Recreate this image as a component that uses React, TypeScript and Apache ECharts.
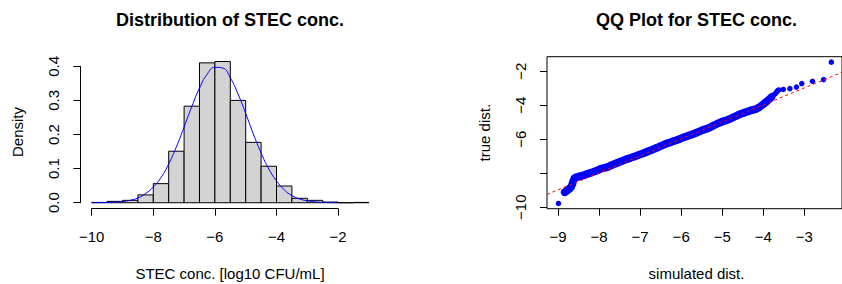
import React, { useEffect, useRef } from "react";
import * as echarts from "echarts";

// Histogram (density scale) of STEC conc.
const histBreaks = [-10, -9.5, -9, -8.5, -8, -7.5, -7, -6.5, -6, -5.5, -5, -4.5, -4, -3.5, -3, -2.5, -2, -1.5, -1];
const histDensity = [0.001, 0.004, 0.007, 0.023, 0.056, 0.151, 0.283, 0.41, 0.414, 0.3, 0.177, 0.107, 0.049, 0.013, 0.007, 0.002, 0, 0.001];

// Fitted density curve (blue)
const curveX = [-10, -9.75, -9.5, -9.25, -9, -8.75, -8.5, -8.25, -8, -7.75, -7.5, -7.25, -7, -6.75, -6.5, -6.25, -6, -5.75, -5.5, -5.25, -5, -4.75, -4.5, -4.25, -4, -3.75, -3.5, -3.25, -3, -2.75, -2.5, -2.25, -2];
const curveY = [0.0001, 0.0003, 0.0007, 0.0016, 0.0035, 0.0073, 0.014, 0.027, 0.046, 0.074, 0.114, 0.164, 0.222, 0.282, 0.336, 0.377, 0.397, 0.395, 0.366, 0.319, 0.262, 0.201, 0.146, 0.099, 0.064, 0.038, 0.021, 0.011, 0.0058, 0.0027, 0.0012, 0.0005, 0.0002];

const histXTicks = [-10, -8, -6, -4, -2];
const histYTicks = [0, 0.1, 0.2, 0.3, 0.4];

// QQ plot: simulated (x) vs true (y) quantiles
const qqSim = [
  -8.99, -8.84, -8.8, -8.76, -8.72, -8.68, -8.65, -8.63, -8.6, -8.56, -8.5, -8.44, -8.38, -8.32, -8.26, -8.2,
  -8.14, -8.08, -8.02, -7.96, -7.9, -7.84, -7.78, -7.72, -7.66, -7.6, -7.54, -7.48, -7.42, -7.36, -7.3, -7.24,
  -7.18, -7.12, -7.06, -7.0, -6.94, -6.88, -6.82, -6.76, -6.7, -6.64, -6.58, -6.52, -6.46, -6.4, -6.34, -6.28,
  -6.22, -6.16, -6.1, -6.04, -5.98, -5.92, -5.86, -5.8, -5.74, -5.68, -5.62, -5.56, -5.5, -5.44, -5.38, -5.32,
  -5.26, -5.2, -5.14, -5.08, -5.02, -4.96, -4.9, -4.84, -4.78, -4.72, -4.66, -4.6, -4.54, -4.48, -4.42, -4.36,
  -4.3, -4.24, -4.18, -4.12, -4.06, -4.0, -3.95, -3.9, -3.85, -3.8, -3.76, -3.72, -3.68, -3.65, -3.62, -3.51,
  -3.35, -3.19, -3.06, -2.8, -2.53, -2.34,
];
const qqTrue = [
  -9.78, -9.12, -9.06, -8.98, -8.9, -8.8, -8.62, -8.45, -8.3, -8.24, -8.2, -8.16, -8.12, -8.07, -8.02, -7.97,
  -7.92, -7.87, -7.81, -7.74, -7.7, -7.67, -7.62, -7.55, -7.49, -7.43, -7.37, -7.31, -7.26, -7.2, -7.15, -7.1,
  -7.05, -7.0, -6.94, -6.89, -6.84, -6.78, -6.72, -6.66, -6.61, -6.55, -6.49, -6.42, -6.36, -6.3, -6.24, -6.19,
  -6.14, -6.09, -6.04, -5.99, -5.93, -5.87, -5.82, -5.77, -5.72, -5.66, -5.6, -5.54, -5.48, -5.43, -5.38, -5.32,
  -5.25, -5.18, -5.11, -5.04, -4.98, -4.93, -4.88, -4.83, -4.77, -4.7, -4.63, -4.56, -4.5, -4.45, -4.4, -4.35,
  -4.3, -4.27, -4.22, -4.15, -4.05, -3.94, -3.84, -3.74, -3.64, -3.52, -3.42, -3.34, -3.24, -3.14, -3.1, -3.07,
  -3.02, -2.93, -2.72, -2.59, -2.49, -1.46,
];
// Reference line (qqline) end points
const qqLineX = [-9.27, -2.08];
const qqLineY = [-9.25, -2.06];

const qqXTicks = [-9, -8, -7, -6, -5, -4, -3];
const qqYTicks = [-10, -8, -6, -4, -2];
const qqYLabels = [-10, -6, -4, -2];

const FONT = "'Liberation Sans', Arial, Helvetica, sans-serif";
const minus = (v: number | string) => String(v).replace("-", "\u2212");

export default function App() {
  const ref = useRef<HTMLDivElement>(null);
  useEffect(() => {
    if (!ref.current) return;
    const chart = echarts.init(ref.current, null, { renderer: "svg" });

    const axisLabelBase = { color: "#000", fontFamily: FONT, fontSize: 15 };
    const hiddenAxis = (min: number, max: number) => ({ type: "value", min, max, show: false, splitLine: { show: false } });

    const histData = histDensity.map((d, i) => [histBreaks[i], histBreaks[i + 1], d]);
    const nDense = 90; // overlapping points in the dense middle look thicker

    const option: any = {
      animation: false,
      backgroundColor: "#fff",
      grid: [
        { left: 80.6, top: 55.5, width: 299.4, height: 152.9 },
        { left: 91.7, top: 55.5, width: 246.3, height: 153.2 },
        { left: 80.3, top: 66.3, width: 299, height: 136.4 },
        { left: 547, top: 56.7, width: 299, height: 152, show: true, borderColor: "#000", borderWidth: 1, backgroundColor: "transparent" },
      ],
      xAxis: [
        { ...hiddenAxis(-10.36, -0.64), gridIndex: 0 },
        {
          type: "value", gridIndex: 1, min: -10, max: -2, interval: 2, position: "bottom",
          splitLine: { show: false },
          axisLine: { show: true, lineStyle: { color: "#000", width: 1 } },
          axisTick: { show: true, length: 7, lineStyle: { color: "#000" }, customValues: histXTicks },
          axisLabel: { ...axisLabelBase, margin: 20, customValues: histXTicks, formatter: (v: number) => minus(v) },
        },
        { ...hiddenAxis(0, 1), gridIndex: 2 },
        {
          type: "value", gridIndex: 3, min: -9.27, max: -2.08, position: "bottom",
          splitLine: { show: false },
          axisLine: { show: false },
          axisTick: { show: true, length: 7, lineStyle: { color: "#000" }, customValues: qqXTicks },
          axisLabel: { ...axisLabelBase, margin: 20, customValues: qqXTicks, formatter: (v: number) => minus(v) },
        },
      ],
      yAxis: [
        { ...hiddenAxis(-0.0166, 0.4316), gridIndex: 0 },
        { ...hiddenAxis(0, 1), gridIndex: 1 },
        {
          type: "value", gridIndex: 2, min: 0, max: 0.4, interval: 0.1, position: "left",
          splitLine: { show: false },
          axisLine: { show: true, lineStyle: { color: "#000", width: 1 } },
          axisTick: { show: true, length: 7, lineStyle: { color: "#000" }, customValues: histYTicks },
          axisLabel: { ...axisLabelBase, margin: 19, rotate: 90, align: "center", verticalAlign: "bottom", customValues: histYTicks, formatter: (v: number) => v.toFixed(1) },
        },
        {
          type: "value", gridIndex: 3, min: -10.09, max: -1.14, position: "left",
          splitLine: { show: false },
          axisLine: { show: false },
          axisTick: { show: true, length: 7, lineStyle: { color: "#000" }, customValues: qqYTicks },
          axisLabel: { ...axisLabelBase, margin: 19, rotate: 90, align: "center", verticalAlign: "bottom", customValues: qqYLabels, formatter: (v: number) => minus(v) },
        },
      ],
      series: [
        {
          type: "custom",
          xAxisIndex: 0,
          yAxisIndex: 0,
          data: histData,
          renderItem: (params: any, api: any) => {
            const x0 = api.value(0), x1 = api.value(1), d = api.value(2);
            const p0 = api.coord([x0, d]);
            const p1 = api.coord([x1, 0]);
            return {
              type: "rect",
              shape: { x: p0[0], y: p0[1], width: p1[0] - p0[0], height: p1[1] - p0[1] },
              style: { fill: "#D3D3D3", stroke: "#000", lineWidth: 1 },
            };
          },
          z: 2,
        },
        {
          type: "line",
          xAxisIndex: 0,
          yAxisIndex: 0,
          data: curveX.map((x, i) => [x, curveY[i]]),
          smooth: true,
          showSymbol: false,
          symbol: "none",
          lineStyle: { color: "#0000FF", width: 1 },
          z: 3,
        },
        {
          type: "scatter",
          xAxisIndex: 3,
          yAxisIndex: 3,
          data: qqSim.map((x, i) => [x, qqTrue[i]]),
          symbol: "circle",
          symbolSize: (_v: any, p: any) => (p.dataIndex >= 1 && p.dataIndex < nDense ? 8 : 5.5),
          itemStyle: { color: "#0000FF", opacity: 1 },
          z: 2,
        },
        {
          type: "line",
          xAxisIndex: 3,
          yAxisIndex: 3,
          data: qqLineX.map((x, i) => [x, qqLineY[i]]),
          showSymbol: false,
          symbol: "none",
          lineStyle: { color: "#FF0000", width: 1, type: [3, 3] },
          z: 3,
        },
      ],
      graphic: [
        { type: "text", x: 230, y: 19.5, style: { text: "Distribution of STEC conc.", fill: "#000", font: `bold 18px ${FONT}`, align: "center", verticalAlign: "middle", textAlign: "center", textVerticalAlign: "middle" } },
        { type: "text", x: 696.5, y: 19.5, style: { text: "QQ Plot for STEC conc.", fill: "#000", font: `bold 18px ${FONT}`, align: "center", verticalAlign: "middle", textAlign: "center", textVerticalAlign: "middle" } },
        { type: "text", x: 230, y: 273.5, style: { text: "STEC conc. [log10 CFU/mL]", fill: "#000", font: `15px ${FONT}`, align: "center", verticalAlign: "middle", textAlign: "center", textVerticalAlign: "middle" } },
        { type: "text", x: 696.5, y: 273.5, style: { text: "simulated dist.", fill: "#000", font: `15px ${FONT}`, align: "center", verticalAlign: "middle", textAlign: "center", textVerticalAlign: "middle" } },
        { type: "text", x: 17.5, y: 132, rotation: Math.PI / 2, style: { text: "Density", fill: "#000", font: `15px ${FONT}`, align: "center", verticalAlign: "middle", textAlign: "center", textVerticalAlign: "middle" } },
        { type: "text", x: 484.3, y: 132.7, rotation: Math.PI / 2, style: { text: "true dist.", fill: "#000", font: `15px ${FONT}`, align: "center", verticalAlign: "middle", textAlign: "center", textVerticalAlign: "middle" } },
      ],
    };

    chart.setOption(option);
    return () => chart.dispose();
  }, []);

  return <div ref={ref} style={{ position: "absolute", left: 0, top: 0, width: 842, height: 284 }} />;
}
